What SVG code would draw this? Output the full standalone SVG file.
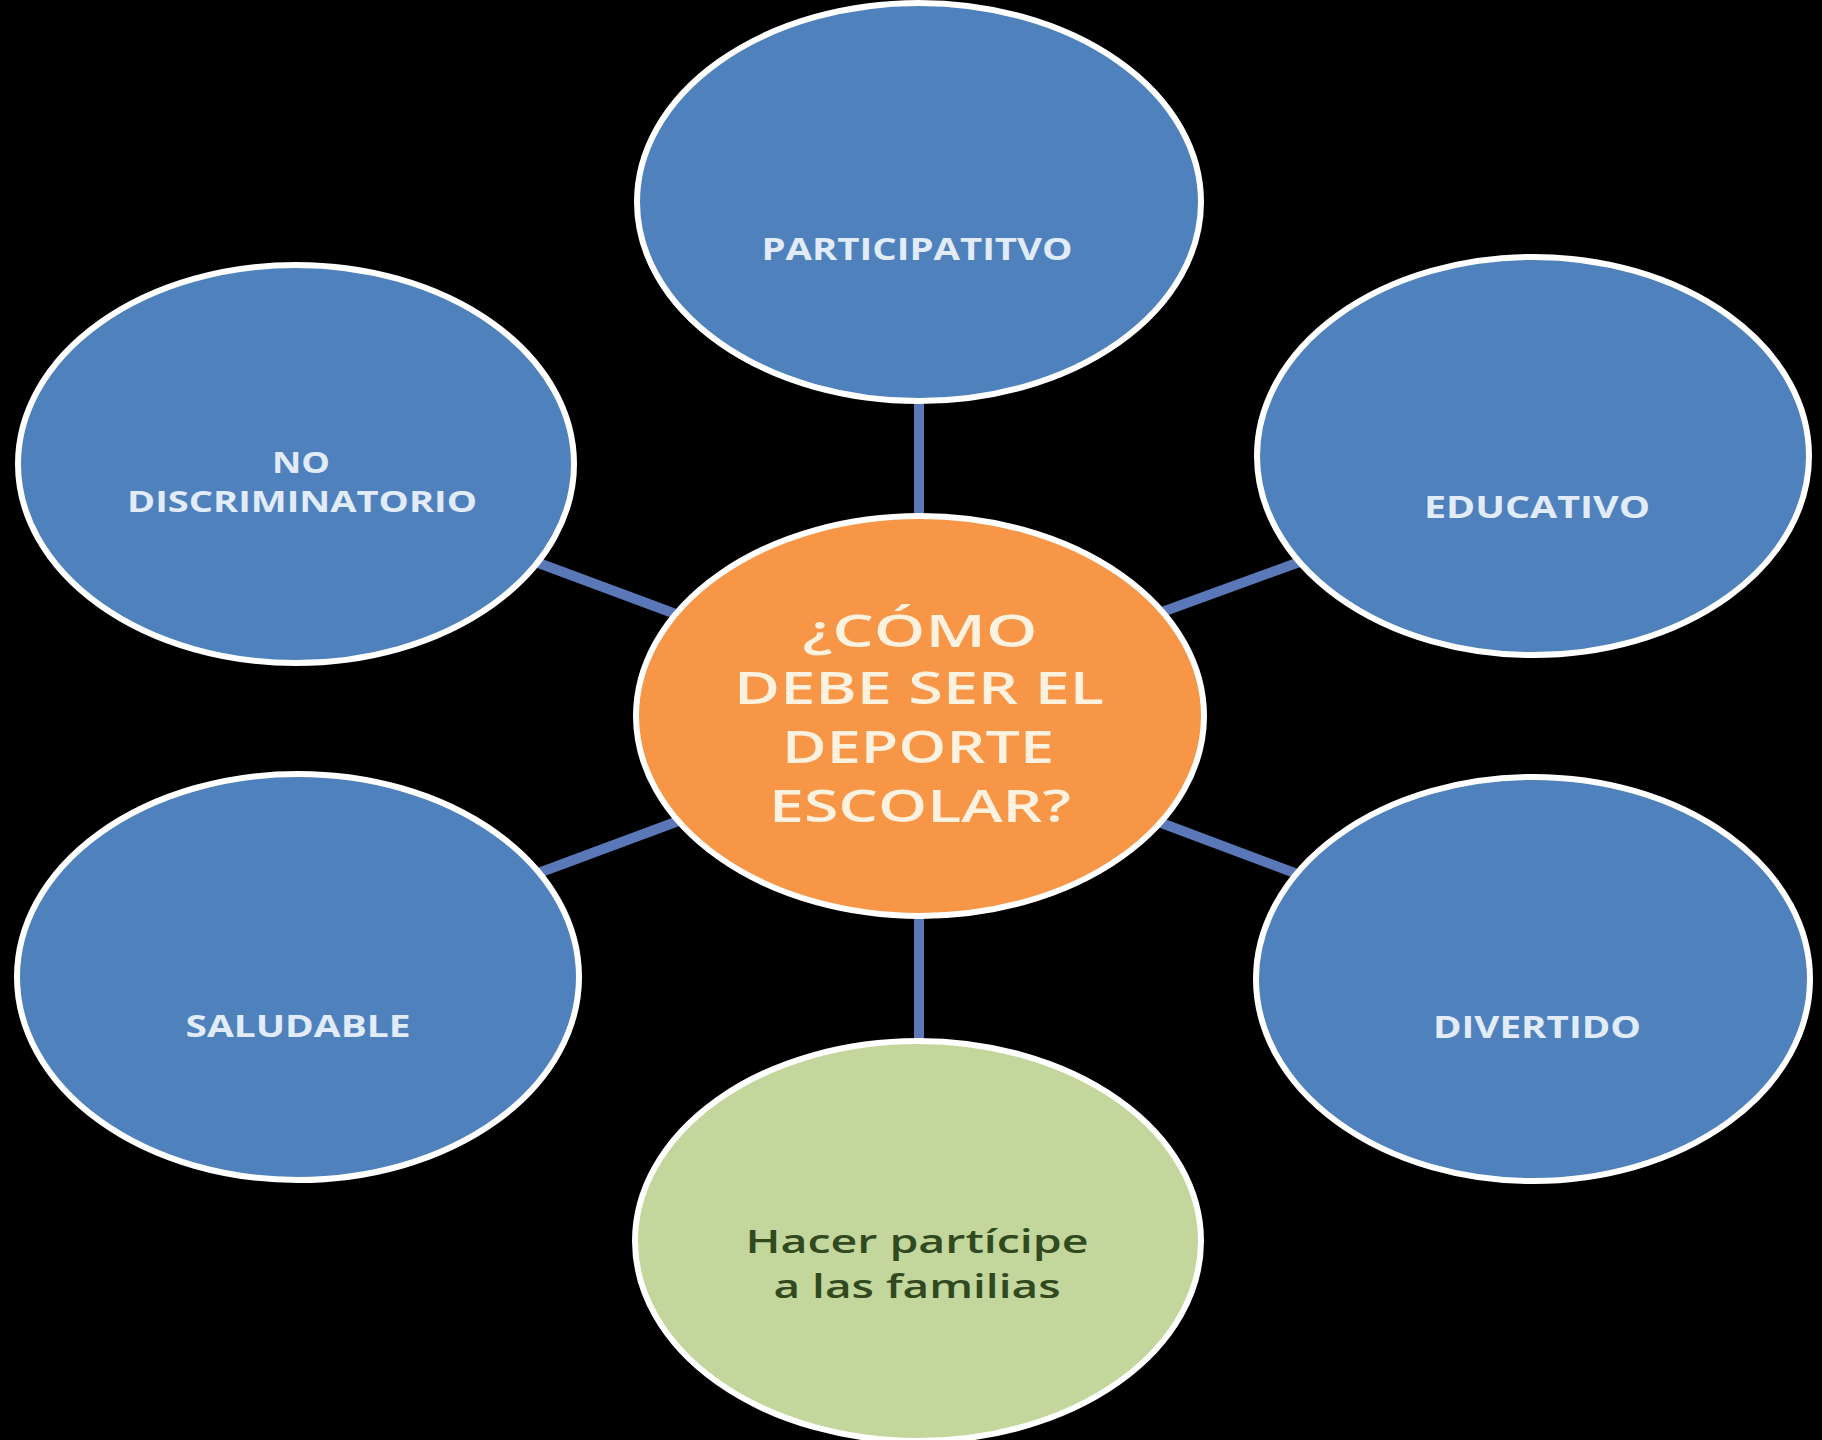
<svg xmlns="http://www.w3.org/2000/svg" width="1822" height="1440" viewBox="0 0 1822 1440">
<style>
.conn{stroke:#5A78B8;stroke-width:10;fill:none}
.blue{fill:#4F81BD;stroke:#FFFFFF;stroke-width:6}
.orange{fill:#F79646;stroke:#FFFFFF;stroke-width:6}
.green{fill:#C3D69B;stroke:#FFFFFF;stroke-width:6}
.bt{font-family:"Open Sans","Liberation Sans",sans-serif;font-weight:700;font-size:31px;fill:#E2ECF8;text-anchor:middle}
.bt2{font-size:28px}
.ct{font-family:"Open Sans","Liberation Sans",sans-serif;font-weight:600;font-size:45px;fill:#FDF1DF;text-anchor:middle}
.gt{font-family:"Open Sans","Liberation Sans",sans-serif;font-weight:600;font-size:32px;fill:#30491F;text-anchor:middle}
</style>
<rect x="0" y="0" width="1822" height="1440" fill="#000000"/>
<g id="connectors">
<line class="conn" x1="919" y1="390" x2="919" y2="530"/>
<line class="conn" x1="525" y1="558" x2="700" y2="623"/>
<line class="conn" x1="1140" y1="620" x2="1316" y2="556"/>
<line class="conn" x1="525" y1="878" x2="700" y2="813"/>
<line class="conn" x1="1140" y1="815" x2="1316" y2="881"/>
<line class="conn" x1="919" y1="905" x2="919" y2="1052"/>
</g>
<g id="node-participativo">
<ellipse class="blue" cx="919" cy="202" rx="282" ry="199"/>
<text class="bt" x="917" y="260" textLength="311" lengthAdjust="spacingAndGlyphs">PARTICIPATITVO</text>
</g>
<g id="node-no-discriminatorio">
<ellipse class="blue" cx="296" cy="464" rx="278" ry="199"/>
<text class="bt bt2" x="301" y="473" textLength="58" lengthAdjust="spacingAndGlyphs">NO</text>
<text class="bt bt2" x="302" y="512" textLength="350" lengthAdjust="spacingAndGlyphs">DISCRIMINATORIO</text>
</g>
<g id="node-educativo">
<ellipse class="blue" cx="1533" cy="456" rx="276" ry="199"/>
<text class="bt" x="1537" y="518" textLength="226" lengthAdjust="spacingAndGlyphs">EDUCATIVO</text>
</g>
<g id="node-saludable">
<ellipse class="blue" cx="298" cy="977" rx="281" ry="203"/>
<text class="bt" x="298" y="1037" textLength="225" lengthAdjust="spacingAndGlyphs">SALUDABLE</text>
</g>
<g id="node-divertido">
<ellipse class="blue" cx="1533" cy="979" rx="277" ry="202"/>
<text class="bt" x="1537" y="1038" textLength="208" lengthAdjust="spacingAndGlyphs">DIVERTIDO</text>
</g>
<g id="node-center">
<ellipse class="orange" cx="920" cy="716" rx="284" ry="200"/>
<text class="ct" x="920" y="647" textLength="235" lengthAdjust="spacingAndGlyphs">¿CÓMO</text>
<text class="ct" x="919" y="704" textLength="370" lengthAdjust="spacingAndGlyphs">DEBE SER EL</text>
<text class="ct" x="918" y="763" textLength="272" lengthAdjust="spacingAndGlyphs">DEPORTE</text>
<text class="ct" x="920" y="822" textLength="302" lengthAdjust="spacingAndGlyphs">ESCOLAR?</text>
</g>
<g id="node-familias">
<ellipse class="green" cx="918" cy="1241" rx="283" ry="200"/>
<text class="gt" x="917" y="1253" textLength="343" lengthAdjust="spacingAndGlyphs">Hacer partícipe</text>
<text class="gt" x="917" y="1298" textLength="287" lengthAdjust="spacingAndGlyphs">a las familias</text>
</g>
</svg>
